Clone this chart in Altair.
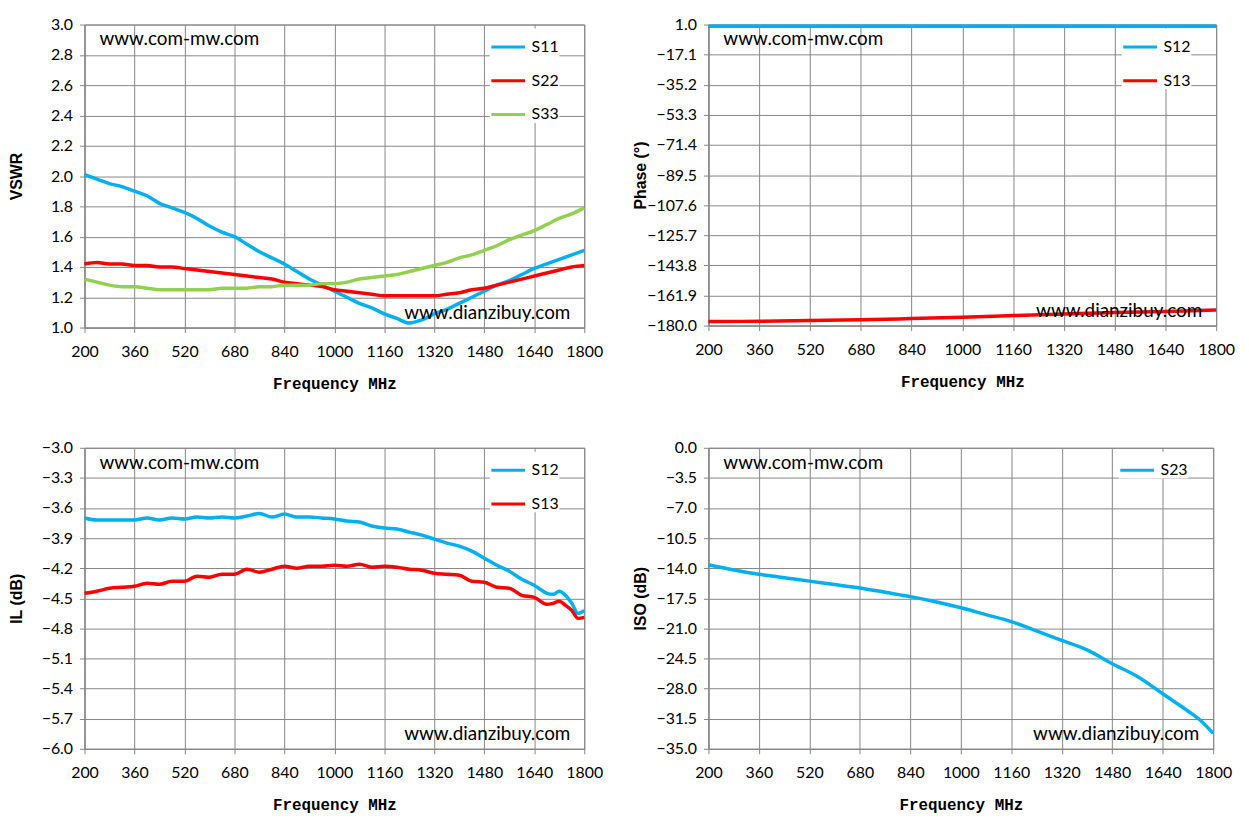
import altair as alt
import pandas as pd

# frequency grids (MHz)
FREQ = [200, 240, 280, 320, 360, 400, 440, 480, 520, 560, 600, 640, 680, 720,
        760, 800, 840, 880, 920, 960, 1000, 1040, 1080, 1120, 1160, 1200, 1240,
        1280, 1320, 1360, 1400, 1440, 1480, 1520, 1560, 1600, 1640, 1680, 1720,
        1760, 1800]
FREQ_IL = [200, 240, 280, 320, 360, 400, 440, 480, 520, 560, 600, 640, 680, 720,
           760, 800, 840, 880, 920, 960, 1000, 1040, 1080, 1120, 1160, 1200, 1240,
           1280, 1320, 1360, 1400, 1440, 1480, 1520, 1560, 1600, 1640, 1680, 1700,
           1720, 1740, 1760, 1780, 1800]
FREQ_PH = [200, 360, 520, 680, 840, 1000, 1160, 1320, 1480, 1640, 1800]

# VSWR
S11_VSWR = [2.01, 1.98, 1.95, 1.93, 1.90, 1.87, 1.82, 1.79, 1.76, 1.72, 1.67, 1.63,
            1.60, 1.55, 1.50, 1.46, 1.42, 1.37, 1.32, 1.28, 1.24, 1.20, 1.16, 1.13,
            1.09, 1.06, 1.03, 1.05, 1.09, 1.12, 1.16, 1.20, 1.24, 1.28, 1.31, 1.35,
            1.39, 1.42, 1.45, 1.48, 1.51]
S22_VSWR = [1.42, 1.43, 1.42, 1.42, 1.41, 1.41, 1.40, 1.40, 1.39, 1.38, 1.37, 1.36,
            1.35, 1.34, 1.33, 1.32, 1.30, 1.29, 1.28, 1.27, 1.25, 1.24, 1.23, 1.22,
            1.21, 1.21, 1.21, 1.21, 1.21, 1.22, 1.23, 1.25, 1.26, 1.28, 1.30, 1.32,
            1.34, 1.36, 1.38, 1.40, 1.41]
S33_VSWR = [1.32, 1.30, 1.28, 1.27, 1.27, 1.26, 1.25, 1.25, 1.25, 1.25, 1.25, 1.26,
            1.26, 1.26, 1.27, 1.27, 1.28, 1.28, 1.28, 1.29, 1.29, 1.30, 1.32, 1.33,
            1.34, 1.35, 1.37, 1.39, 1.41, 1.43, 1.46, 1.48, 1.51, 1.54, 1.58, 1.61,
            1.64, 1.68, 1.72, 1.75, 1.79]

# Phase
S12_PH = [0.0, 0.0, 0.0, 0.0, 0.0, 0.0, 0.0, 0.0, 0.0, 0.0, 0.0]
S13_PH = [-177.6, -177.4, -177.0, -176.5, -175.8, -175.0, -174.0, -173.0, -172.2,
          -171.5, -170.7]

# Insertion loss
S12_IL = [-3.70, -3.72, -3.72, -3.72, -3.72, -3.70, -3.72, -3.70, -3.71, -3.69,
          -3.70, -3.69, -3.70, -3.68, -3.655, -3.69, -3.66, -3.69, -3.69, -3.70,
          -3.71, -3.73, -3.74, -3.78, -3.80, -3.81, -3.84, -3.87, -3.91, -3.95,
          -3.98, -4.03, -4.10, -4.17, -4.23, -4.31, -4.37, -4.45, -4.46, -4.43,
          -4.47, -4.55, -4.65, -4.62]
S13_IL = [-4.45, -4.43, -4.40, -4.39, -4.38, -4.35, -4.36, -4.33, -4.33, -4.28,
          -4.29, -4.26, -4.26, -4.21, -4.24, -4.21, -4.18, -4.20, -4.18, -4.18,
          -4.17, -4.18, -4.16, -4.19, -4.18, -4.19, -4.21, -4.22, -4.25, -4.26,
          -4.27, -4.33, -4.34, -4.39, -4.40, -4.47, -4.49, -4.56, -4.55, -4.53,
          -4.57, -4.62, -4.70, -4.69]

# Isolation
FREQ_ISO = [200, 280, 360, 440, 520, 600, 680, 760, 840, 920, 1000, 1080, 1160,
            1240, 1320, 1400, 1480, 1560, 1640, 1720, 1760, 1800]
S23_ISO = [-13.6, -14.2, -14.7, -15.1, -15.5, -15.9, -16.3, -16.8, -17.3, -17.9,
           -18.6, -19.4, -20.2, -21.3, -22.4, -23.5, -25.1, -26.6, -28.6, -30.6,
           -31.7, -33.2]

X_TICKS = [200, 360, 520, 680, 840, 1000, 1160, 1320, 1480, 1640, 1800]
VSWR_TICKS = [1.0, 1.2, 1.4, 1.6, 1.8, 2.0, 2.2, 2.4, 2.6, 2.8, 3.0]
PHASE_TICKS = [1.0, -17.1, -35.2, -53.3, -71.4, -89.5, -107.6, -125.7, -143.8,
               -161.9, -180.0]
IL_TICKS = [-3.0, -3.3, -3.6, -3.9, -4.2, -4.5, -4.8, -5.1, -5.4, -5.7, -6.0]
ISO_TICKS = [0.0, -3.5, -7.0, -10.5, -14.0, -17.5, -21.0, -24.5, -28.0, -31.5,
             -35.0]

SITE_TOP = "www.com-mw.com"
SITE_BOTTOM = "www.dianzibuy.com"

BLUE = "#00b0f0"
RED = "#ff0000"
GREEN = "#92d050"


def long_df(freq, series):
    rows = []
    for name, vals in series.items():
        for f, v in zip(freq, vals):
            rows.append({"freq": f, "value": v, "series": name})
    return pd.DataFrame(rows)


def panel(df, y_title, y_domain, y_ticks, names, colors, w, h):
    lines = alt.Chart(df).mark_line(strokeWidth=3.5, interpolate="monotone").encode(
        x=alt.X("freq:Q", title="Frequency MHz",
                scale=alt.Scale(domain=[200, 1800], nice=False, zero=False),
                axis=alt.Axis(values=X_TICKS, format="d")),
        y=alt.Y("value:Q", title=y_title,
                scale=alt.Scale(domain=y_domain, nice=False, zero=False),
                axis=alt.Axis(values=y_ticks, format=".1f",
                              titleFont="Liberation Sans", titleFontSize=16,
                              titleFontWeight="bold")),
        color=alt.Color("series:N",
                        scale=alt.Scale(domain=names, range=colors),
                        legend=alt.Legend(title=None, orient="none",
                                          legendX=w - 95, legendY=4)),
        detail="series:N",
    )
    top = alt.Chart(pd.DataFrame({"site": [SITE_TOP]})).mark_text(
        align="left", baseline="middle", font="Lato", fontSize=19, color="black"
    ).encode(text="site:N", x=alt.value(15), y=alt.value(15))
    bottom = alt.Chart(pd.DataFrame({"site": [SITE_BOTTOM]})).mark_text(
        align="right", baseline="middle", font="Lato", fontSize=19, color="black"
    ).encode(text="site:N", x=alt.value(w - 14), y=alt.value(h - 15))
    return alt.layer(lines, top, bottom).properties(width=w, height=h)


vswr = panel(long_df(FREQ, {"S11": S11_VSWR, "S22": S22_VSWR, "S33": S33_VSWR}),
             "VSWR", [1.0, 3.0], VSWR_TICKS, ["S11", "S22", "S33"],
             [BLUE, RED, GREEN], 503, 305)
phase = panel(long_df(FREQ_PH, {"S12": S12_PH, "S13": S13_PH}),
              "Phase (°)", [-180.0, 1.0], PHASE_TICKS, ["S12", "S13"],
              [BLUE, RED], 511, 303)
il = panel(long_df(FREQ_IL, {"S12": S12_IL, "S13": S13_IL}),
           "IL (dB)", [-6.0, -3.0], IL_TICKS, ["S12", "S13"],
           [BLUE, RED], 503, 303)
iso = panel(long_df(FREQ_ISO, {"S23": S23_ISO}),
            "ISO (dB)", [-35.0, 0.0], ISO_TICKS, ["S23"], [BLUE], 508, 303)

row1 = alt.hconcat(vswr, phase, spacing=28).resolve_scale(color="independent", y="independent")
row2 = alt.hconcat(il, iso, spacing=28).resolve_scale(color="independent", y="independent")

chart = alt.vconcat(row1, row2, spacing=47).resolve_scale(
    color="independent", y="independent"
).properties(
    padding={"left": 0, "top": 5, "right": 5, "bottom": 5}
).configure_view(
    stroke="#868686", strokeWidth=1
).configure_axis(
    gridColor="#868686", gridWidth=1, gridOpacity=1,
    domainColor="#868686", tickColor="#868686", tickSize=5,
    labelFont="Lato", labelFontSize=16, labelColor="black",
    titleColor="black",
).configure_axisX(
    labelPadding=11, titlePadding=16, labelFlush=False,
    titleFont="Liberation Mono", titleFontSize=16, titleFontWeight="bold",
).configure_axisY(
    labelPadding=7, minExtent=57, maxExtent=57, titlePadding=3,
).configure_legend(
    fillColor="white", padding=0, symbolType="stroke", symbolSize=1156,
    symbolStrokeWidth=3, labelFont="Lato", labelFontSize=16, labelColor="black",
    rowPadding=7, labelOffset=5,
)

chart.save("out.html", embed_options={"renderer": "svg", "actions": False})
